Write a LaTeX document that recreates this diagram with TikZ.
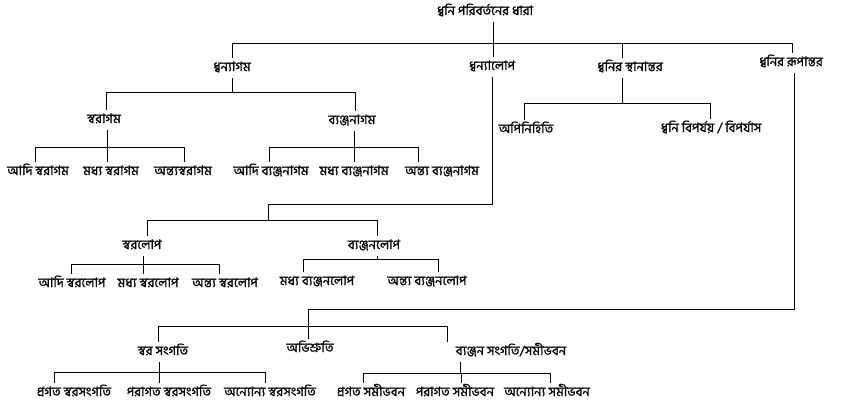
\documentclass[tikz,border=0pt]{standalone}
\usepackage{fontspec}
\newfontfamily\bn[Script=Bengali,FakeBold=1]{Hind Siliguri}
\begin{document}
\begin{tikzpicture}[x=1pt,y=-1pt,
  lbl/.style={font=\bn\fontsize{13}{15}\selectfont, inner xsep=0pt, inner ysep=4pt, text height=9pt, text depth=3pt, outer sep=0pt},
  ln/.style={line width=0.9pt, black}]
\fill[white] (0,0) rectangle (851,412);
\useasboundingbox (0,0) rectangle (851,412);
% nodes
\node[lbl] (root) at (485,12) {ধ্বনি পরিবর্তনের ধারা};
\node[lbl] (agam) at (232,68) {ধ্বন্যাগম};
\node[lbl] (lop) at (492,67) {ধ্বন্যালোপ};
\node[lbl] (sthan) at (630,68) {ধ্বনির স্থানান্তর};
\node[lbl] (rupa) at (791,63) {ধ্বনির রূপান্তর};
\node[lbl] (swragam) at (104,120) {স্বরাগম};
\node[lbl] (byagam) at (352,121) {ব্যঞ্জনাগম};
\node[lbl] (a1) at (38,172) {আদি স্বরাগম};
\node[lbl] (a2) at (111,172) {মধ্য স্বরাগম};
\node[lbl] (a3) at (183,172) {অন্ত্যস্বরাগম};
\node[lbl] (b1) at (271,172) {আদি ব্যঞ্জনাগম};
\node[lbl] (b2) at (354,172) {মধ্য ব্যঞ্জনাগম};
\node[lbl] (b3) at (442,172) {অন্ত্য ব্যঞ্জনাগম};
\node[lbl] (apini) at (526,130) {অপিনিহিতি};
\node[lbl] (bipar) at (711,129) {ধ্বনি বিপর্যয় / বিপর্যাস};
\node[lbl] (swlop) at (142,246) {স্বরলোপ};
\node[lbl] (bylop) at (374,246) {ব্যঞ্জনলোপ};
\node[lbl] (c1) at (72,284) {আদি স্বরলোপ};
\node[lbl] (c2) at (148,284) {মধ্য স্বরলোপ};
\node[lbl] (c3) at (225,284) {অন্ত্য স্বরলোপ};
\node[lbl] (d1) at (317,282) {মধ্য ব্যঞ্জনলোপ};
\node[lbl] (d2) at (427,282) {অন্ত্য ব্যঞ্জনলোপ};
\node[lbl] (swsang) at (163,352) {স্বর সংগতি};
\node[lbl] (abhi) at (310,349) {অভিশ্রুতি};
\node[lbl] (bysang) at (511,352) {ব্যঞ্জন সংগতি/সমীভবন};
\node[lbl] (e1) at (74,393) {প্রগত স্বরসংগতি};
\node[lbl] (e2) at (169,393) {পরাগত স্বরসংগতি};
\node[lbl] (e3) at (270,393) {অন্যোন্য স্বরসংগতি};
\node[lbl] (f1) at (371,393) {প্রগত সমীভবন};
\node[lbl] (f2) at (455,393) {পরাগত সমীভবন};
\node[lbl] (f3) at (547,393) {অন্যোন্য সমীভবন};
% attachment points
\coordinate (rootS) at ([xshift=8pt]root.south);
\coordinate (agamT) at (agam.north);
\coordinate (agamS) at (agam.south);
\coordinate (lopT) at ([xshift=1pt]lop.north);
\coordinate (lopS) at (lop.south);
\coordinate (sthanT) at ([xshift=-8pt]sthan.north);
\coordinate (sthanS) at ([xshift=-8pt]sthan.south);
\coordinate (rupaT) at ([xshift=1pt]rupa.north);
\coordinate (rupaS) at ([xshift=3pt]rupa.south);
\coordinate (swragamT) at ([xshift=2pt]swragam.north);
\coordinate (swragamS) at ([xshift=3pt]swragam.south);
\coordinate (byagamT) at ([xshift=3pt]byagam.north);
\coordinate (byagamS) at ([xshift=2pt]byagam.south);
\coordinate (a1T) at ([xshift=-3pt]a1.north);
\coordinate (a2T) at ([xshift=-4pt]a2.north);
\coordinate (a3T) at ([xshift=1pt]a3.north);
\coordinate (b1T) at ([xshift=-2pt]b1.north);
\coordinate (b2T) at (b2.north);
\coordinate (b3T) at ([xshift=-24pt]b3.north);
\coordinate (apiniT) at ([xshift=-2pt]apini.north);
\coordinate (biparT) at ([xshift=-1pt]bipar.north);
\coordinate (swlopT) at ([xshift=5pt]swlop.north);
\coordinate (swlopS) at ([xshift=1pt]swlop.south);
\coordinate (bylopT) at ([xshift=3pt]bylop.north);
\coordinate (bylopS) at ([xshift=3pt]bylop.south);
\coordinate (c1T) at ([xshift=-1pt]c1.north);
\coordinate (c2T) at ([xshift=-5pt]c2.north);
\coordinate (c3T) at ([xshift=-6pt]c3.north);
\coordinate (d1T) at ([xshift=-14pt]d1.north);
\coordinate (d2T) at ([xshift=11pt]d2.north);
\coordinate (swsangT) at ([xshift=-5pt]swsang.north);
\coordinate (swsangS) at ([xshift=-4pt]swsang.south);
\coordinate (abhiT) at ([xshift=-2pt]abhi.north);
\coordinate (bysangT) at ([xshift=-64pt]bysang.north);
\coordinate (bysangS) at ([xshift=-51pt]bysang.south);
\coordinate (e1T) at ([xshift=-20pt]e1.north);
\coordinate (e2T) at ([xshift=-10pt]e2.north);
\coordinate (e3T) at ([xshift=-5pt]e3.north);
\coordinate (f1T) at ([xshift=-8pt]f1.north);
\coordinate (f2T) at ([xshift=6pt]f2.north);
\coordinate (f3T) at ([xshift=3pt]f3.north);
% bar levels
\coordinate (yR) at (0,43);
\coordinate (yAg) at (0,92);
\coordinate (ySw) at (0,147);
\coordinate (yBy) at (0,147);
\coordinate (ySt) at (0,103);
\coordinate (jLop) at (268,204);
\coordinate (yLop) at (0,220);
\coordinate (ySl) at (0,264);
\coordinate (yBl) at (0,259);
\coordinate (jRup) at (308,309);
\coordinate (yRup) at (0,326);
\coordinate (ySs) at (0,372);
\coordinate (yBs) at (0,373);
% root
\draw[ln] (rootS) -- (rootS |- yR);
\draw[ln] (agamT |- yR) -- (rupaT |- yR);
\foreach \c in {agamT,lopT,sthanT,rupaT} \draw[ln] (\c) -- (\c |- yR);
% dhvanyagam
\draw[ln] (agamS) -- (agamS |- yAg);
\draw[ln] (swragamT |- yAg) -- (byagamT |- yAg);
\foreach \c in {swragamT,byagamT} \draw[ln] (\c) -- (\c |- yAg);
\draw[ln] (swragamS) -- (swragamS |- ySw);
\draw[ln] (a1T |- ySw) -- (a3T |- ySw);
\foreach \c in {a1T,a2T,a3T} \draw[ln] (\c) -- (\c |- ySw);
\draw[ln] (byagamS) -- (byagamS |- yBy);
\draw[ln] (b1T |- yBy) -- (b3T |- yBy);
\foreach \c in {b1T,b2T,b3T} \draw[ln] (\c) -- (\c |- yBy);
% sthanantar
\draw[ln] (sthanS) -- (sthanS |- ySt);
\draw[ln] (apiniT |- ySt) -- (biparT |- ySt);
\foreach \c in {apiniT,biparT} \draw[ln] (\c) -- (\c |- ySt);
% dhvanyalop
\draw[ln] (lopS) |- (jLop) -- (jLop |- yLop);
\draw[ln] (swlopT |- yLop) -- (bylopT |- yLop);
\foreach \c in {swlopT,bylopT} \draw[ln] (\c) -- (\c |- yLop);
\draw[ln] (swlopS) -- (swlopS |- ySl);
\draw[ln] (c1T |- ySl) -- (c3T |- ySl);
\foreach \c in {c1T,c2T,c3T} \draw[ln] (\c) -- (\c |- ySl);
\draw[ln] (bylopS) -- (bylopS |- yBl);
\draw[ln] (d1T |- yBl) -- (d2T |- yBl);
\foreach \c in {d1T,d2T} \draw[ln] (\c) -- (\c |- yBl);
% rupantar
\draw[ln] (rupaS) |- (jRup) -- (abhiT);
\draw[ln] (swsangT |- yRup) -- (bysangT |- yRup);
\foreach \c in {swsangT,bysangT} \draw[ln] (\c) -- (\c |- yRup);
\draw[ln] (swsangS) -- (swsangS |- ySs);
\draw[ln] (e1T |- ySs) -- (e3T |- ySs);
\foreach \c in {e1T,e2T,e3T} \draw[ln] (\c) -- (\c |- ySs);
\draw[ln] (bysangS) -- (bysangS |- yBs);
\draw[ln] (f1T |- yBs) -- (f3T |- yBs);
\foreach \c in {f1T,f2T,f3T} \draw[ln] (\c) -- (\c |- yBs);
\end{tikzpicture}
\end{document}
